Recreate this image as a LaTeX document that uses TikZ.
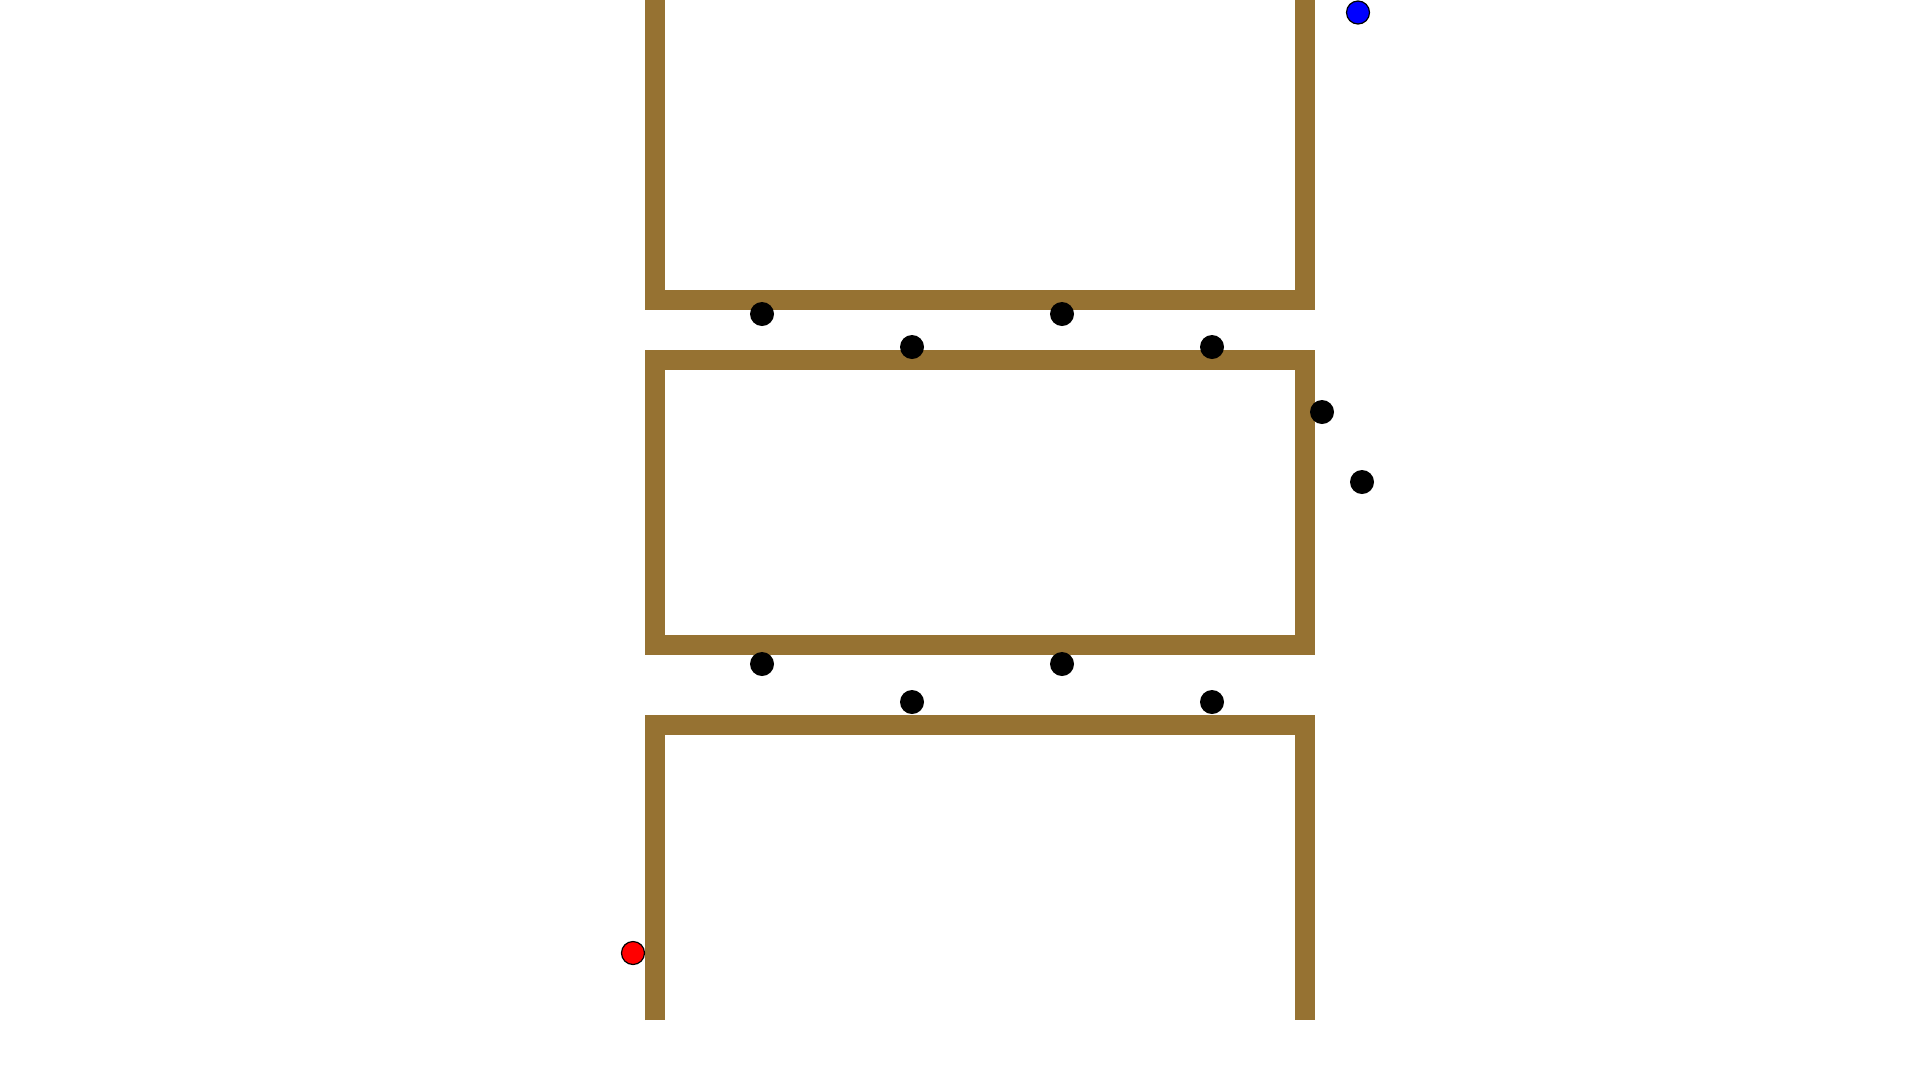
\documentclass[tikz,border=0pt]{standalone}
\usepackage{tikz}
\usepackage{xcolor}
\definecolor{wallbrown}{HTML}{967232}

\begin{document}
\begin{tikzpicture}[
    x=1pt, y=-1pt,
    wall/.style={draw=wallbrown, line width=20pt, line cap=butt, line join=miter},
    dot/.style={circle, fill=black, inner sep=0pt, minimum size=24pt},
    marker/.style={circle, draw=black, line width=1.2pt, fill=#1, inner sep=0pt, minimum size=23pt},
]

\useasboundingbox (0, 0) rectangle (1920, 1080);

% Top room
\draw[wall] (655, 0) -- (655, 300) -- (1305, 300) -- (1305, 0);

% Middle room
\draw[wall] (655, 360) rectangle (1305, 645);

% Bottom room
\draw[wall] (655, 1020) -- (655, 725) -- (1305, 725) -- (1305, 1020);

% Dots between top and middle room
\node[dot] (ta) at (762, 314) {};
\node[dot] (tb) at (1062, 314) {};
\node[dot] (tc) at (912, 347) {};
\node[dot] (td) at (1212, 347) {};

% Dots beside the middle room
\node[dot] (ra) at (1322, 412) {};
\node[dot] (rb) at (1362, 482) {};

% Dots between middle and bottom room
\node[dot] (ba) at (762, 664) {};
\node[dot] (bb) at (1062, 664) {};
\node[dot] (bc) at (912, 702) {};
\node[dot] (bd) at (1212, 702) {};

% Markers
\node[marker=blue] (goal) at (1358, 12.5) {};
\node[marker=red] (start) at (633, 953) {};

\end{tikzpicture}
\end{document}
